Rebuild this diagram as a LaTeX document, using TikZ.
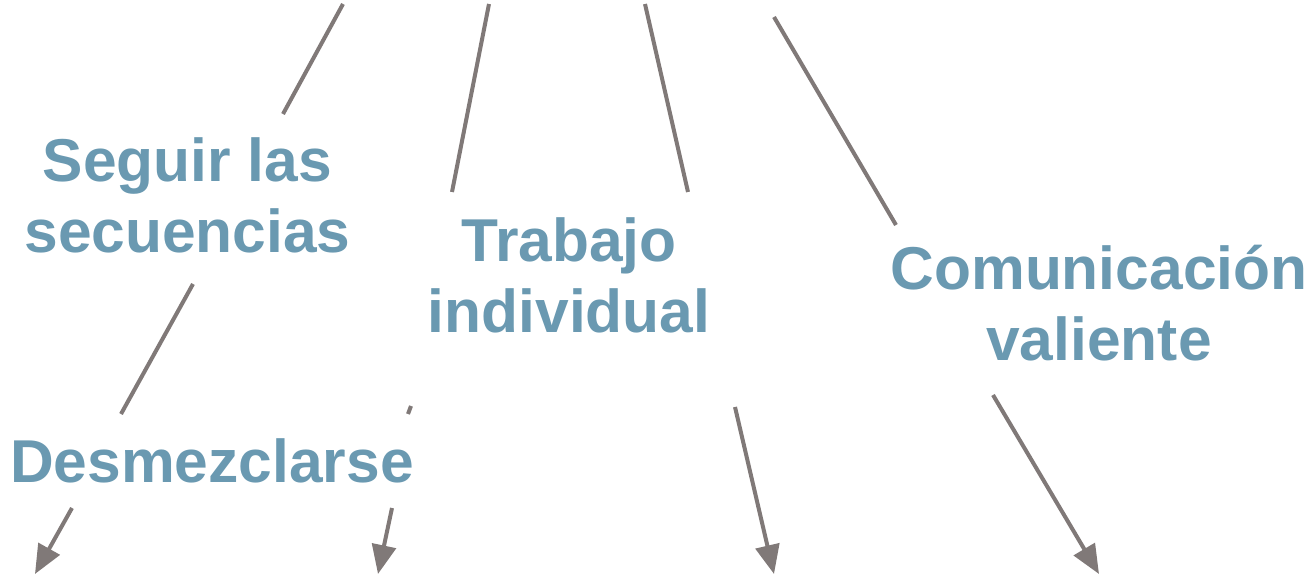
\documentclass[tikz,border=0pt]{standalone}
\usepackage{fontspec}
\setmainfont{Liberation Sans}
\usetikzlibrary{arrows.meta}
\definecolor{conceptblue}{RGB}{106,153,177}
\definecolor{strandgrey}{RGB}{128,121,120}
\tikzstyle{concept} = [text=conceptblue, inner sep=0pt, align=center,
    font=\fontsize{30.25pt}{35.5pt}\selectfont\bfseries]
\tikzstyle{strand} = [draw=strandgrey, line width=2pt]
\tikzstyle{arrow} = [strand, -{Triangle[length=14.5pt, width=12pt]}]

\begin{document}
\begin{tikzpicture}[x=0.5pt, y=-0.5pt]
    \useasboundingbox (0,0) rectangle (1314,577);

    \node[concept] (seguir) at (187.5,195.5) {Seguir las\\secuencias};
    \node[concept] (trabajo) at (569,275) {Trabajo\\individual};
    \node[concept] (comunica) at (1099,303.5) {Comunicación\\valiente};
    \node[concept, anchor=base] (desmez) at (212,483) {Desmezclarse};

    % loose ends of the strands
    \coordinate (s1a) at (343,4);   \coordinate (s1b) at (283,114);
    \coordinate (s2a) at (489,4);   \coordinate (s2b) at (452,192);
    \coordinate (s3a) at (645,4);   \coordinate (s3b) at (688,192);
    \coordinate (s4a) at (774,17);  \coordinate (s4b) at (896,225);
    \coordinate (s5a) at (193,284); \coordinate (s5b) at (121,414);
    \coordinate (s6a) at (411,406); \coordinate (s6b) at (408,414);
    \coordinate (a1a) at (72,508);  \coordinate (a1b) at (35,574);
    \coordinate (a2a) at (392,508); \coordinate (a2b) at (378,574);
    \coordinate (a3a) at (735,407); \coordinate (a3b) at (774,574);
    \coordinate (a4a) at (993,395); \coordinate (a4b) at (1099,574);

    \draw[strand] (s1a) -- (s1b);
    \draw[strand] (s2a) -- (s2b);
    \draw[strand] (s3a) -- (s3b);
    \draw[strand] (s4a) -- (s4b);
    \draw[strand] (s5a) -- (s5b);
    \draw[strand] (s6a) -- (s6b);

    \draw[arrow] (a1a) -- (a1b);
    \draw[arrow] (a2a) -- (a2b);
    \draw[arrow] (a3a) -- (a3b);
    \draw[arrow] (a4a) -- (a4b);
\end{tikzpicture}
\end{document}
